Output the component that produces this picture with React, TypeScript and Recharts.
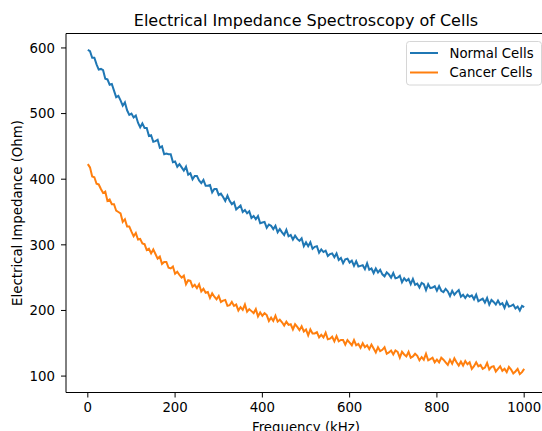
import React from 'react';
import { LineChart, Line, XAxis, YAxis, ReferenceLine } from 'recharts';

// frequency grid (kHz)
const frequency = [
  0, 5, 10, 15, 20, 25, 30, 35, 40, 45, 50, 55, 60, 65, 70, 75, 80, 85, 90, 95,
  100, 105, 110, 115, 120, 125, 130, 135, 140, 145, 150, 155, 160, 165, 170, 175, 180, 185, 190, 195,
  200, 205, 210, 215, 220, 225, 230, 235, 240, 245, 250, 255, 260, 265, 270, 275, 280, 285, 290, 295,
  300, 305, 310, 315, 320, 325, 330, 335, 340, 345, 350, 355, 360, 365, 370, 375, 380, 385, 390, 395,
  400, 405, 410, 415, 420, 425, 430, 435, 440, 445, 450, 455, 460, 465, 470, 475, 480, 485, 490, 495,
  500, 505, 510, 515, 520, 525, 530, 535, 540, 545, 550, 555, 560, 565, 570, 575, 580, 585, 590, 595,
  600, 605, 610, 615, 620, 625, 630, 635, 640, 645, 650, 655, 660, 665, 670, 675, 680, 685, 690, 695,
  700, 705, 710, 715, 720, 725, 730, 735, 740, 745, 750, 755, 760, 765, 770, 775, 780, 785, 790, 795,
  800, 805, 810, 815, 820, 825, 830, 835, 840, 845, 850, 855, 860, 865, 870, 875, 880, 885, 890, 895,
  900, 905, 910, 915, 920, 925, 930, 935, 940, 945, 950, 955, 960, 965, 970, 975, 980, 985, 990, 995,
  1000,
];

// impedance (Ohm)
const normalCells = [
  597, 595, 585, 585, 575, 567, 568, 566, 553, 552, 544, 545, 535, 525, 527, 520, 512, 517, 505, 498,
  500, 494, 497, 486, 479, 485, 478, 478, 466, 467, 457, 458, 460, 448, 450, 438, 439, 438, 438, 426,
  427, 419, 423, 418, 413, 419, 407, 409, 400, 405, 405, 398, 394, 399, 390, 390, 391, 380, 385, 385,
  376, 378, 373, 367, 375, 367, 362, 365, 354, 357, 360, 350, 353, 348, 351, 341, 344, 339, 344, 333,
  334, 335, 326, 331, 329, 324, 329, 319, 324, 319, 315, 323, 313, 315, 308, 314, 309, 306, 310, 298,
  304, 298, 304, 294, 297, 298, 288, 293, 289, 291, 283, 286, 287, 281, 287, 277, 280, 272, 278, 279,
  273, 276, 268, 275, 267, 268, 269, 263, 272, 262, 264, 257, 264, 258, 262, 255, 252, 258, 255, 250,
  257, 249, 250, 253, 243, 249, 245, 248, 240, 248, 239, 241, 235, 242, 240, 231, 240, 234, 235, 237,
  230, 237, 230, 228, 233, 229, 222, 230, 224, 228, 231, 221, 224, 219, 224, 221, 223, 217, 224, 214,
  216, 218, 212, 219, 209, 216, 213, 209, 215, 209, 211, 204, 213, 206, 207, 209, 203, 206, 200, 207,
  205,
];

const cancerCells = [
  423, 418, 404, 403, 393, 392, 385, 379, 381, 367, 369, 362, 362, 352, 350, 348, 335, 339, 328, 328,
  320, 313, 318, 308, 309, 302, 301, 292, 294, 287, 293, 286, 279, 282, 271, 274, 274, 265, 264, 267,
  256, 259, 254, 250, 253, 240, 246, 245, 236, 239, 234, 240, 229, 233, 227, 228, 219, 226, 221, 217,
  222, 213, 215, 216, 207, 208, 213, 207, 209, 200, 205, 201, 209, 198, 202, 199, 196, 202, 191, 197,
  192, 196, 193, 184, 189, 184, 192, 183, 186, 182, 177, 183, 178, 179, 171, 179, 175, 170, 176, 168,
  171, 162, 171, 165, 165, 167, 159, 163, 159, 166, 156, 157, 160, 153, 161, 153, 155, 155, 148, 155,
  151, 147, 155, 147, 149, 143, 150, 144, 147, 141, 148, 142, 136, 144, 138, 140, 144, 134, 136, 139,
  133, 139, 137, 128, 137, 133, 130, 137, 128, 130, 134, 131, 124, 129, 125, 134, 124, 126, 128, 121,
  125, 121, 128, 125, 121, 117, 125, 119, 127, 121, 116, 122, 116, 123, 118, 121, 111, 115, 121, 115,
  117, 111, 113, 120, 110, 114, 115, 107, 111, 115, 108, 111, 106, 114, 110, 104, 107, 111, 103, 106,
  111,
];

const xTicks = [0, 200, 400, 600, 800, 1000];
const yTicks = [100, 200, 300, 400, 500, 600];

const series = [
  { key: 'normal', name: 'Normal Cells', color: '#1f77b4' },
  { key: 'cancer', name: 'Cancer Cells', color: '#ff7f0e' },
];

const data = frequency.map((f, i) => ({ f, normal: normalCells[i], cancer: cancerCells[i] }));

const FONT = '"DejaVu Sans", sans-serif';
const X_DOMAIN: [number, number] = [-50, 1050];
const Y_DOMAIN: [number, number] = [75, 622];
const tickStyle = { fill: '#000', fontSize: 13.3, fontFamily: FONT };

const App = () => {
  return (
    <div
      style={{
        position: 'absolute',
        left: 0,
        top: 0,
        width: 542,
        height: 431,
        overflow: 'hidden',
        background: '#fff',
        fontFamily: FONT,
      }}
    >
      <LineChart width={560} height={431} data={data} margin={{ top: 33.5, right: 14, bottom: 0, left: 0 }}>
        <XAxis
          dataKey="f"
          type="number"
          domain={X_DOMAIN}
          ticks={xTicks}
          height={38.5}
          tickSize={5}
          tickMargin={5}
          stroke="#000"
          tick={tickStyle}
        />
        <YAxis
          type="number"
          domain={Y_DOMAIN}
          ticks={yTicks}
          width={66}
          tickSize={5}
          tickMargin={6}
          stroke="#000"
          tick={tickStyle}
        />
        <ReferenceLine y={Y_DOMAIN[1]} stroke="#000" strokeWidth={1} />
        <ReferenceLine x={X_DOMAIN[1]} stroke="#000" strokeWidth={1} />
        {series.map((s) => (
          <Line
            key={s.key}
            dataKey={s.key}
            name={s.name}
            stroke={s.color}
            strokeWidth={2}
            dot={false}
            isAnimationActive={false}
          />
        ))}
      </LineChart>

      {/* title, axis labels and legend */}
      <svg
        width={542}
        height={431}
        style={{ position: 'absolute', left: 0, top: 0, pointerEvents: 'none' }}
        fontFamily={FONT}
      >
        <text x={306} y={26} textAnchor="middle" fontSize={16} fill="#000">
          Electrical Impedance Spectroscopy of Cells
        </text>
        <text x={306} y={431.5} textAnchor="middle" fontSize={13.3} fill="#000">
          Frequency (kHz)
        </text>
        <text
          x={22}
          y={213}
          textAnchor="middle"
          fontSize={13.3}
          fill="#000"
          transform="rotate(-90, 22, 213)"
        >
          Electrical Impedance (Ohm)
        </text>
        <g transform="translate(406.5, 41.5)">
          <rect x={0} y={0} width={135} height={43.5} rx={3} fill="#fff" fillOpacity={0.8} stroke="#d6d6d6" />
          {series.map((s, i) => (
            <g key={s.key} transform={`translate(0, ${i * 19.5})`}>
              <line x1={3.5} x2={31.5} y1={11.5} y2={11.5} stroke={s.color} strokeWidth={2} />
              <text x={43} y={16} fontSize={13.3} fill="#000">
                {s.name}
              </text>
            </g>
          ))}
        </g>
      </svg>
    </div>
  );
};

export default App;
